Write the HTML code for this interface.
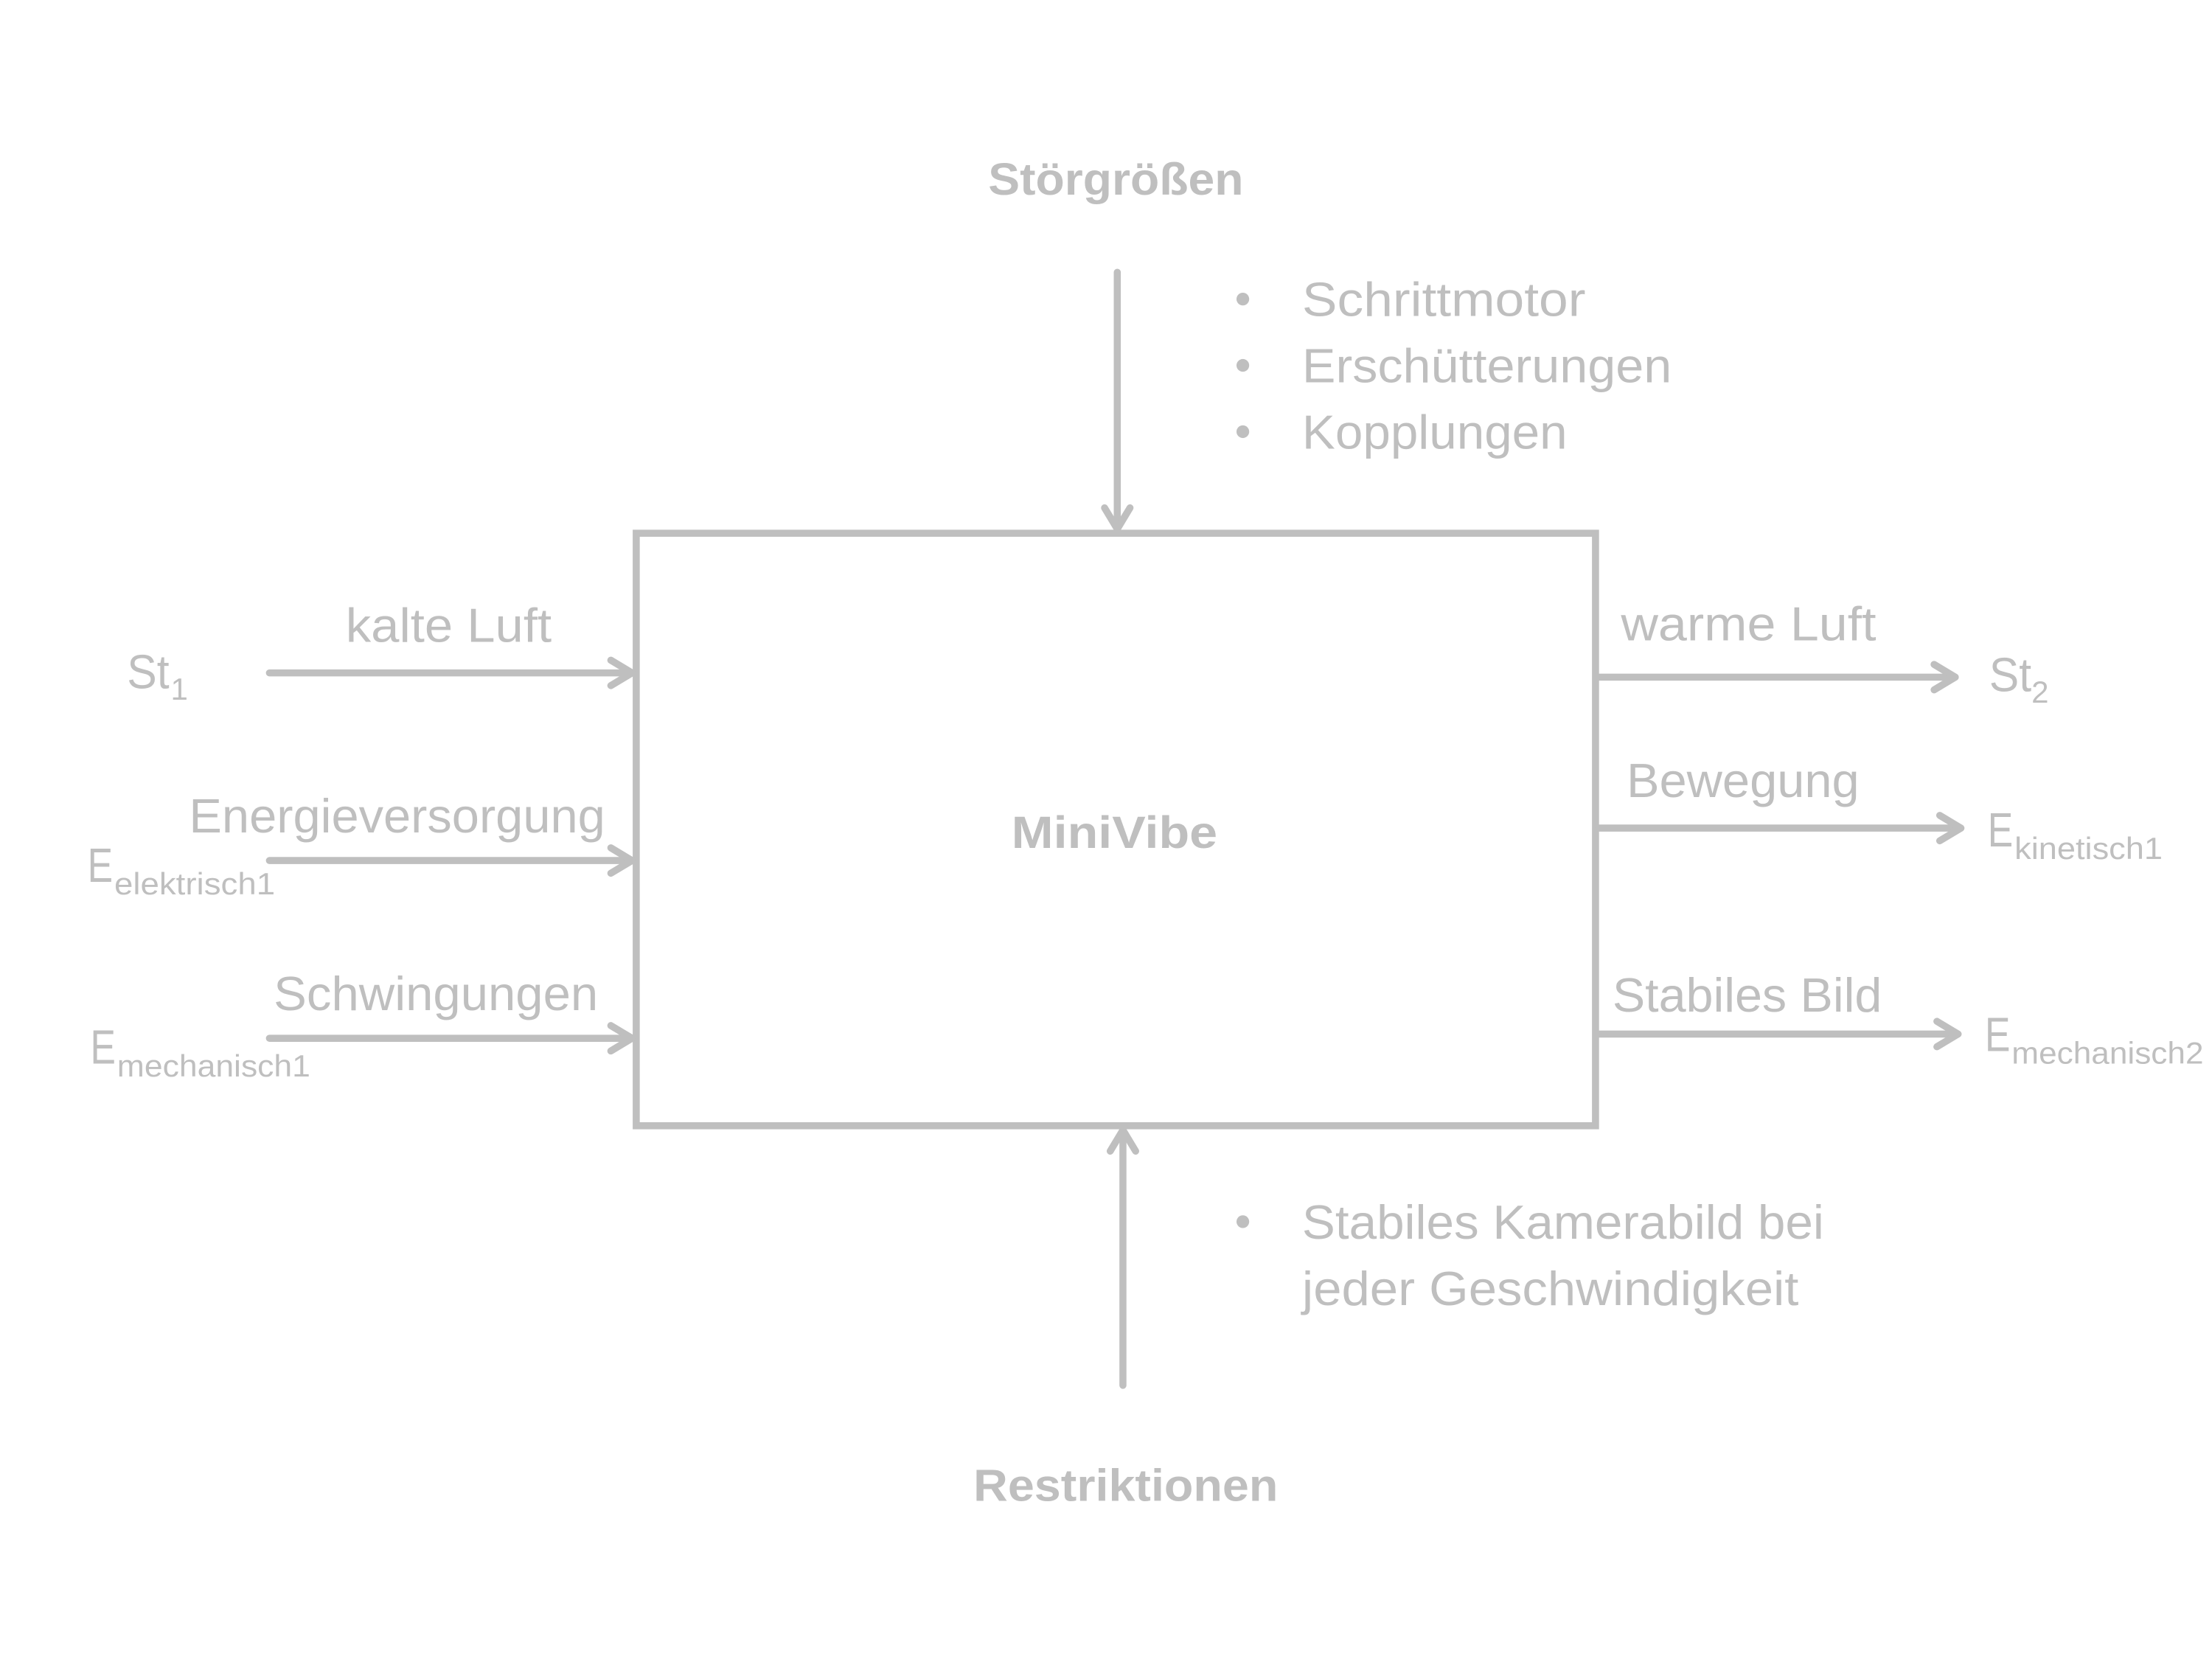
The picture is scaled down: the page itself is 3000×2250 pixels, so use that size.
<!DOCTYPE html>
<html><head><meta charset="utf-8"><style>
html,body{margin:0;padding:0;background:#fff;}
svg{display:block;}
text{font-family:"Liberation Sans",sans-serif;fill:#bfbfbf;}
.b{font-weight:bold;}
</style></head><body>
<svg width="3000" height="2250" viewBox="0 0 1568 1176" xmlns="http://www.w3.org/2000/svg">
<g stroke="#bfbfbf" stroke-width="5" fill="none" stroke-linecap="round" stroke-linejoin="round">
<rect x="451" y="378" width="680" height="420" stroke-linecap="butt" stroke-linejoin="miter"/>
<line x1="792" y1="193" x2="792" y2="375"/>
<polyline points="783,360 792,375 801,360"/>
<line x1="796" y1="982" x2="796" y2="801"/>
<polyline points="787,816 796,801 805,816"/>
<line x1="191" y1="477" x2="448" y2="477"/><polyline points="433,468 448,477 433,486"/>
<line x1="191" y1="610" x2="448" y2="610"/><polyline points="433,601 448,610 433,619"/>
<line x1="191" y1="736" x2="448" y2="736"/><polyline points="433,727 448,736 433,745"/>
<line x1="1133" y1="480" x2="1386" y2="480"/><polyline points="1371,471 1386,480 1371,489"/>
<line x1="1133" y1="587" x2="1390" y2="587"/><polyline points="1375,578 1390,587 1375,596"/>
<line x1="1133" y1="733" x2="1388" y2="733"/><polyline points="1373,724 1388,733 1373,742"/>
</g>
<text class="b" x="791" y="138" font-size="32" text-anchor="middle" textLength="181" lengthAdjust="spacingAndGlyphs">Störgrößen</text>
<text class="b" x="790" y="601" font-size="32" text-anchor="middle" textLength="146" lengthAdjust="spacingAndGlyphs">MiniVibe</text>
<text class="b" x="798" y="1064" font-size="32" text-anchor="middle" textLength="216" lengthAdjust="spacingAndGlyphs">Restriktionen</text>

<g font-size="34">
<circle cx="881" cy="212" r="4.5" fill="#bfbfbf"/>
<circle cx="881" cy="259" r="4.5" fill="#bfbfbf"/>
<circle cx="881" cy="306" r="4.5" fill="#bfbfbf"/>
<text x="923" y="224" textLength="201" lengthAdjust="spacingAndGlyphs">Schrittmotor</text>
<text x="923" y="271" textLength="262" lengthAdjust="spacingAndGlyphs">Erschütterungen</text>
<text x="923" y="318" textLength="188" lengthAdjust="spacingAndGlyphs">Kopplungen</text>
<circle cx="881" cy="866" r="4.5" fill="#bfbfbf"/>
<text x="923" y="878" textLength="370" lengthAdjust="spacingAndGlyphs">Stabiles Kamerabild bei</text>
<text x="923" y="925" textLength="352" lengthAdjust="spacingAndGlyphs">jeder Geschwindigkeit</text>

<text x="245" y="455" textLength="146" lengthAdjust="spacingAndGlyphs">kalte Luft</text>
<text x="134" y="590" textLength="295" lengthAdjust="spacingAndGlyphs">Energieversorgung</text>
<text x="194" y="716" textLength="230" lengthAdjust="spacingAndGlyphs">Schwingungen</text>
<text x="1149" y="454" textLength="181" lengthAdjust="spacingAndGlyphs">warme Luft</text>
<text x="1153" y="565" textLength="165" lengthAdjust="spacingAndGlyphs">Bewegung</text>
<text x="1143" y="717" textLength="191" lengthAdjust="spacingAndGlyphs">Stabiles Bild</text>

<text x="90" y="488" textLength="30" lengthAdjust="spacingAndGlyphs">St</text>
<text x="121" y="496" font-size="22">1</text>
<text x="62" y="625" textLength="18" lengthAdjust="spacingAndGlyphs">E</text>
<text x="81" y="634" font-size="22" textLength="114" lengthAdjust="spacingAndGlyphs">elektrisch1</text>
<text x="64" y="754" textLength="18" lengthAdjust="spacingAndGlyphs">E</text>
<text x="83" y="763" font-size="22" textLength="137" lengthAdjust="spacingAndGlyphs">mechanisch1</text>

<text x="1410" y="490" textLength="30" lengthAdjust="spacingAndGlyphs">St</text>
<text x="1440" y="498" font-size="22">2</text>
<text x="1409" y="600" textLength="18" lengthAdjust="spacingAndGlyphs">E</text>
<text x="1428" y="609" font-size="22" textLength="105" lengthAdjust="spacingAndGlyphs">kinetisch1</text>
<text x="1407" y="745" textLength="18" lengthAdjust="spacingAndGlyphs">E</text>
<text x="1426" y="754" font-size="22" textLength="136" lengthAdjust="spacingAndGlyphs">mechanisch2</text>
</g>
</svg>
</body></html>
